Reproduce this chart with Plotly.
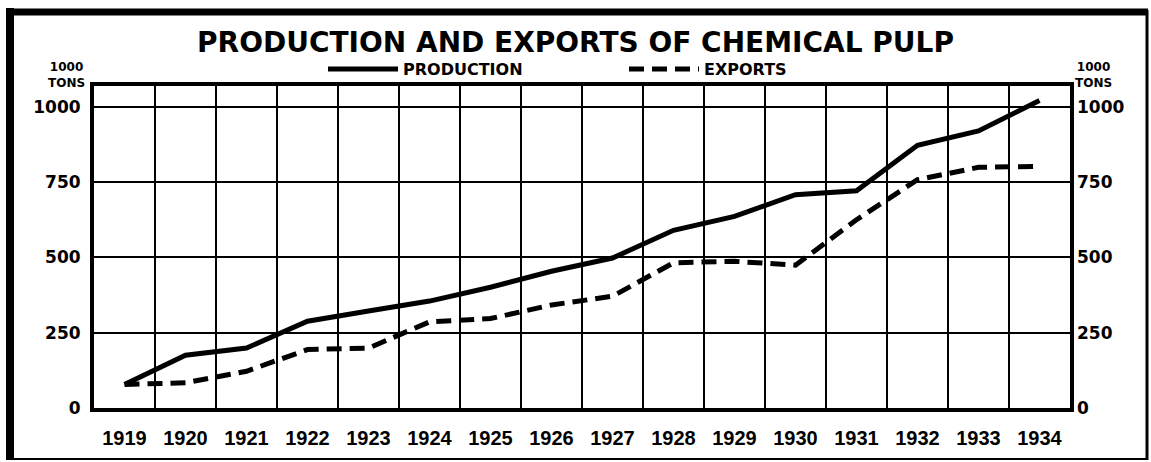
import plotly.graph_objects as go

years = list(range(1919, 1935))
production = [78, 175, 199, 288, 322, 355, 401, 454, 498, 590, 636, 708, 721, 872, 920, 1021]
exports = [78, 84, 122, 194, 199, 286, 297, 342, 371, 482, 487, 474, 625, 758, 799, 802]
y_ticks = [0, 250, 500, 750, 1000]
title_text = "PRODUCTION AND EXPORTS OF CHEMICAL PULP"
unit_text = "1000<br>TONS"

W, H = 1151, 462
L, R, T, B = 94, 81, 86, 54
pw, ph = W - L - R, H - T - B


def px(xp):
    return (xp - L) / pw


def py(yp):
    return (H - B - yp) / ph


fig = go.Figure()
fig.add_trace(go.Scatter(x=years, y=production, mode="lines", name="PRODUCTION",
                         line=dict(color="black", width=5)))
fig.add_trace(go.Scatter(x=years, y=exports, mode="lines", name="EXPORTS",
                         line=dict(color="black", width=5, dash="15px,8px")))
# invisible trace on the right axis so it is drawn
fig.add_trace(go.Scatter(x=years, y=production, mode="lines", yaxis="y2",
                         showlegend=False, hoverinfo="skip",
                         line=dict(color="rgba(0,0,0,0)", width=0)))

tick_font = dict(family="DejaVu Sans", size=17, color="black", weight="bold")
yr = [0, 1069]

fig.update_layout(
    width=W, height=H,
    margin=dict(l=L, r=R, t=T, b=B, autoexpand=False),
    paper_bgcolor="white", plot_bgcolor="white",
    title=dict(text=title_text, x=0.5, xref="container", y=1 - 42 / H, yref="container",
               xanchor="center", yanchor="middle",
               font=dict(family="DejaVu Sans", size=28, color="black", weight="bold")),
    legend=dict(orientation="h", x=px(323), y=py(69), xanchor="left", yanchor="middle",
                font=dict(family="DejaVu Sans", size=16, color="black", weight="bold"),
                entrywidth=216, itemwidth=70, bgcolor="rgba(0,0,0,0)", tracegroupgap=0),
    xaxis=dict(range=[1918.5, 1934.5], tickvals=years, ticktext=[str(y) for y in years],
               showgrid=False, zeroline=False, showline=True, linecolor="black", linewidth=4,
               mirror=True, ticks="", ticklabelstandoff=9, automargin=False,
               tickfont=dict(family="Liberation Sans", size=20, color="black", weight="bold"),
               minor=dict(tick0=1918.5, dtick=1, showgrid=True, gridcolor="black", gridwidth=2,
                          ticks="")),
    yaxis=dict(range=yr, tickvals=y_ticks, ticktext=[str(v) for v in y_ticks],
               showgrid=True, gridcolor="black", gridwidth=2, zeroline=False,
               showline=True, linecolor="black", linewidth=4, mirror=True, automargin=False,
               ticks="", ticklabelstandoff=6, tickfont=tick_font),
    yaxis2=dict(range=yr, overlaying="y", side="right", tickvals=y_ticks, automargin=False,
                ticktext=[str(v) for v in y_ticks], showgrid=False, zeroline=False,
                showline=False, ticks="", ticklabelstandoff=6, tickfont=tick_font),
    showlegend=True,
)

unit_font = dict(family="DejaVu Sans", size=12, color="black", weight="bold")
for xa, anchor in [(px(87), "right"), (px(1073), "left")]:
    fig.add_annotation(text=unit_text, x=xa, y=py(75), xref="paper", yref="paper",
                       xanchor=anchor, yanchor="middle", align="center", showarrow=False,
                       font=unit_font)

# outer frame
frame = [
    (px(10), py(8), px(10), py(460), 8),
    (px(6), py(12), px(1148), py(12), 7),
    (px(1147), py(10), px(1147), py(460), 3),
    (px(8), py(459), px(1148), py(459), 2),
]
for x0, y0, x1, y1, w in frame:
    fig.add_shape(type="line", xref="paper", yref="paper", x0=x0, y0=y0, x1=x1, y1=y1,
                  line=dict(color="black", width=w))

fig.write_html("out.html", config={"displayModeBar": False},
               post_script="document.body.style.margin='0';")
